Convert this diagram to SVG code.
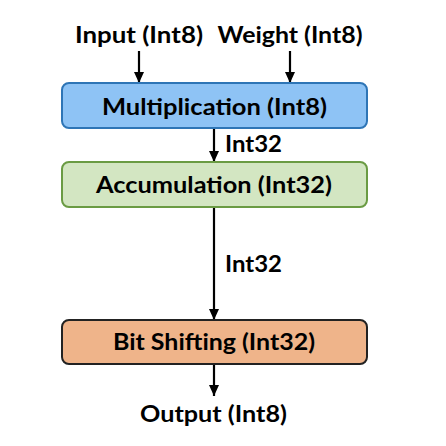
<svg xmlns="http://www.w3.org/2000/svg" width="446" height="446" viewBox="0 0 446 446">
<defs>
<marker id="ah" viewBox="0 0 10 10" refX="10" refY="5" markerWidth="11" markerHeight="10" markerUnits="userSpaceOnUse" orient="auto" preserveAspectRatio="none">
<path d="M0,0 L10,5 L0,10 z" fill="#000"/>
</marker>
<style>
text{font-family:Lato,"Liberation Sans",sans-serif;font-weight:bold;font-size:22px;fill:#000;text-anchor:middle}
.c{stroke:#000;stroke-width:2.2;fill:none;marker-end:url(#ah)}
rect{stroke-width:2}
</style>
</defs>
<rect width="446" height="446" fill="#fff"/>
<g id="connectors">
<line class="c" x1="139" y1="51" x2="139" y2="83"/>
<line class="c" x1="290" y1="51" x2="290" y2="83"/>
<line class="c" x1="214" y1="128" x2="214" y2="162"/>
<line class="c" x1="214" y1="207" x2="214" y2="320"/>
<line class="c" x1="214" y1="364" x2="214" y2="396"/>
<text x="253.5" y="152" textLength="57" lengthAdjust="spacingAndGlyphs">Int32</text>
<text x="253.5" y="272" textLength="57" lengthAdjust="spacingAndGlyphs">Int32</text>
</g>
<g id="input"><text x="139" y="43" textLength="128" lengthAdjust="spacingAndGlyphs">Input (Int8)</text></g>
<g id="weight"><text x="290" y="43" textLength="145" lengthAdjust="spacingAndGlyphs">Weight (Int8)</text></g>
<g id="mult">
<rect x="62" y="83" width="305" height="45" rx="7" fill="#8EC3F5" stroke="#2E75B6"/>
<text x="214.5" y="115" textLength="225" lengthAdjust="spacingAndGlyphs">Multiplication (Int8)</text>
</g>
<g id="accum">
<rect x="62" y="162" width="305" height="45" rx="7" fill="#D3E6C2" stroke="#6A9B43"/>
<text x="214" y="193" textLength="236" lengthAdjust="spacingAndGlyphs">Accumulation (Int32)</text>
</g>
<g id="shift">
<rect x="62" y="320" width="305" height="44" rx="7" fill="#EFB48A" stroke="#222"/>
<text x="214" y="350" textLength="202" lengthAdjust="spacingAndGlyphs">Bit Shifting (Int32)</text>
</g>
<g id="output"><text x="213.5" y="422" textLength="147" lengthAdjust="spacingAndGlyphs">Output (Int8)</text></g>
</svg>
